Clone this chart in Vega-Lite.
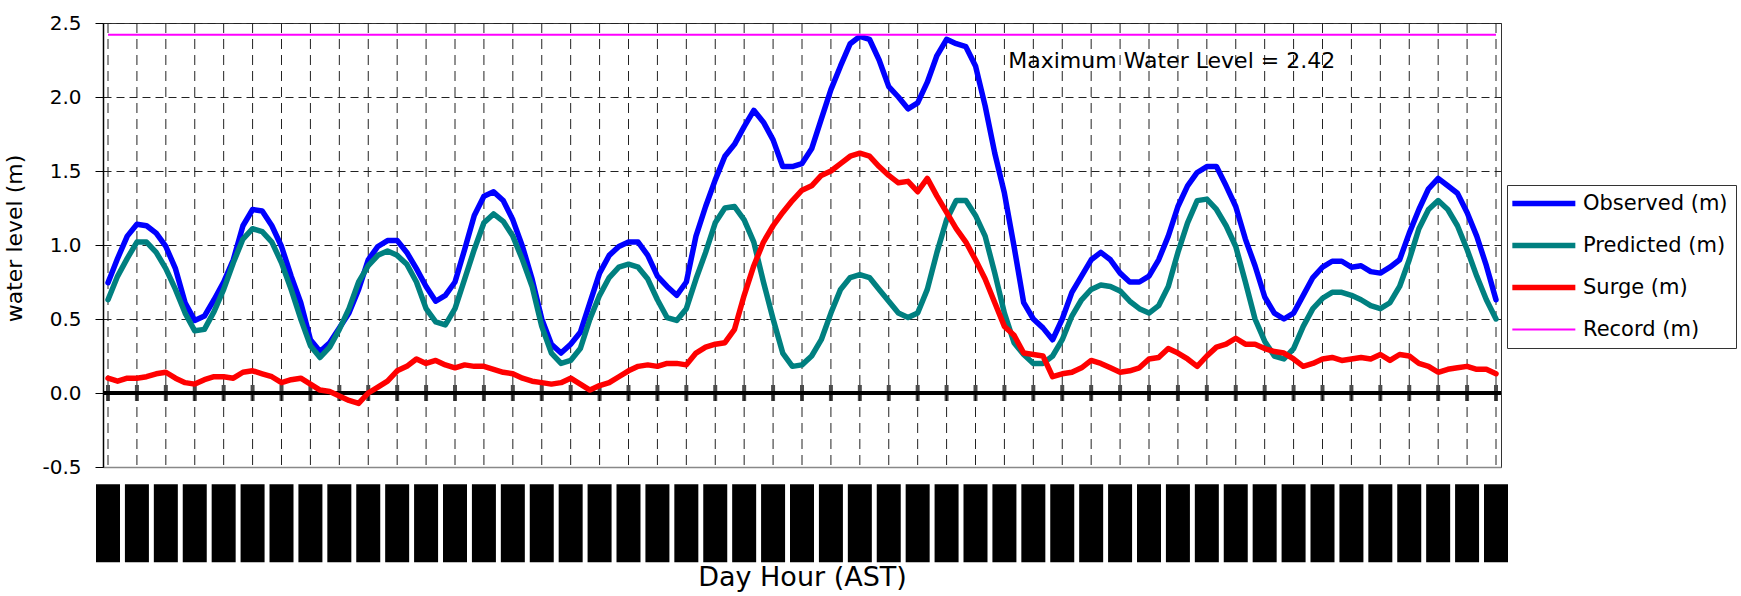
{
  "$schema": "https://vega.github.io/schema/vega-lite/v6.json",
  "width": 1398,
  "height": 444,
  "autosize": "none",
  "padding": {"left": 103, "top": 23, "right": 240, "bottom": 129},
  "background": "white",
  "config": {
    "view": {"stroke": "#333", "strokeWidth": 1},
    "font": "DejaVu Sans",
    "axis": {"labelFont": "DejaVu Sans", "titleFont": "DejaVu Sans", "labelColor": "black", "titleColor": "black", "titleFontWeight": "normal"}
  },
  "datasets": {
    "wl": [
      {"h":0,"Observed (m)":0.745,"Predicted (m)":0.63,"Surge (m)":0.10},
      {"h":1,"Observed (m)":0.91,"Predicted (m)":0.79,"Surge (m)":0.08},
      {"h":2,"Observed (m)":1.06,"Predicted (m)":0.91,"Surge (m)":0.10},
      {"h":3,"Observed (m)":1.14,"Predicted (m)":1.02,"Surge (m)":0.10},
      {"h":4,"Observed (m)":1.13,"Predicted (m)":1.02,"Surge (m)":0.11},
      {"h":5,"Observed (m)":1.08,"Predicted (m)":0.95,"Surge (m)":0.13},
      {"h":6,"Observed (m)":0.99,"Predicted (m)":0.84,"Surge (m)":0.14},
      {"h":7,"Observed (m)":0.84,"Predicted (m)":0.70,"Surge (m)":0.10},
      {"h":8,"Observed (m)":0.61,"Predicted (m)":0.54,"Surge (m)":0.07},
      {"h":9,"Observed (m)":0.49,"Predicted (m)":0.42,"Surge (m)":0.06},
      {"h":10,"Observed (m)":0.52,"Predicted (m)":0.43,"Surge (m)":0.09},
      {"h":11,"Observed (m)":0.63,"Predicted (m)":0.55,"Surge (m)":0.11},
      {"h":12,"Observed (m)":0.75,"Predicted (m)":0.70,"Surge (m)":0.11},
      {"h":13,"Observed (m)":0.90,"Predicted (m)":0.88,"Surge (m)":0.10},
      {"h":14,"Observed (m)":1.13,"Predicted (m)":1.04,"Surge (m)":0.14},
      {"h":15,"Observed (m)":1.24,"Predicted (m)":1.11,"Surge (m)":0.15},
      {"h":16,"Observed (m)":1.23,"Predicted (m)":1.09,"Surge (m)":0.13},
      {"h":17,"Observed (m)":1.13,"Predicted (m)":1.02,"Surge (m)":0.11},
      {"h":18,"Observed (m)":0.99,"Predicted (m)":0.88,"Surge (m)":0.07},
      {"h":19,"Observed (m)":0.79,"Predicted (m)":0.70,"Surge (m)":0.09},
      {"h":20,"Observed (m)":0.61,"Predicted (m)":0.50,"Surge (m)":0.10},
      {"h":21,"Observed (m)":0.36,"Predicted (m)":0.32,"Surge (m)":0.06},
      {"h":22,"Observed (m)":0.28,"Predicted (m)":0.24,"Surge (m)":0.02},
      {"h":23,"Observed (m)":0.34,"Predicted (m)":0.31,"Surge (m)":0.01},
      {"h":24,"Observed (m)":0.44,"Predicted (m)":0.43,"Surge (m)":-0.02},
      {"h":25,"Observed (m)":0.54,"Predicted (m)":0.57,"Surge (m)":-0.05},
      {"h":26,"Observed (m)":0.70,"Predicted (m)":0.75,"Surge (m)":-0.07},
      {"h":27,"Observed (m)":0.90,"Predicted (m)":0.86,"Surge (m)":0.00},
      {"h":28,"Observed (m)":0.99,"Predicted (m)":0.93,"Surge (m)":0.04},
      {"h":29,"Observed (m)":1.03,"Predicted (m)":0.96,"Surge (m)":0.08},
      {"h":30,"Observed (m)":1.03,"Predicted (m)":0.93,"Surge (m)":0.15},
      {"h":31,"Observed (m)":0.95,"Predicted (m)":0.87,"Surge (m)":0.18},
      {"h":32,"Observed (m)":0.84,"Predicted (m)":0.75,"Surge (m)":0.23},
      {"h":33,"Observed (m)":0.72,"Predicted (m)":0.57,"Surge (m)":0.20},
      {"h":34,"Observed (m)":0.62,"Predicted (m)":0.48,"Surge (m)":0.22},
      {"h":35,"Observed (m)":0.66,"Predicted (m)":0.46,"Surge (m)":0.19},
      {"h":36,"Observed (m)":0.75,"Predicted (m)":0.57,"Surge (m)":0.17},
      {"h":37,"Observed (m)":0.97,"Predicted (m)":0.77,"Surge (m)":0.19},
      {"h":38,"Observed (m)":1.20,"Predicted (m)":0.97,"Surge (m)":0.18},
      {"h":39,"Observed (m)":1.33,"Predicted (m)":1.15,"Surge (m)":0.18},
      {"h":40,"Observed (m)":1.36,"Predicted (m)":1.21,"Surge (m)":0.16},
      {"h":41,"Observed (m)":1.30,"Predicted (m)":1.16,"Surge (m)":0.14},
      {"h":42,"Observed (m)":1.17,"Predicted (m)":1.06,"Surge (m)":0.13},
      {"h":43,"Observed (m)":0.99,"Predicted (m)":0.90,"Surge (m)":0.10},
      {"h":44,"Observed (m)":0.77,"Predicted (m)":0.72,"Surge (m)":0.08},
      {"h":45,"Observed (m)":0.50,"Predicted (m)":0.45,"Surge (m)":0.07},
      {"h":46,"Observed (m)":0.33,"Predicted (m)":0.27,"Surge (m)":0.06},
      {"h":47,"Observed (m)":0.27,"Predicted (m)":0.20,"Surge (m)":0.07},
      {"h":48,"Observed (m)":0.33,"Predicted (m)":0.22,"Surge (m)":0.10},
      {"h":49,"Observed (m)":0.41,"Predicted (m)":0.30,"Surge (m)":0.06},
      {"h":50,"Observed (m)":0.61,"Predicted (m)":0.50,"Surge (m)":0.02},
      {"h":51,"Observed (m)":0.81,"Predicted (m)":0.66,"Surge (m)":0.05},
      {"h":52,"Observed (m)":0.93,"Predicted (m)":0.78,"Surge (m)":0.07},
      {"h":53,"Observed (m)":0.99,"Predicted (m)":0.85,"Surge (m)":0.11},
      {"h":54,"Observed (m)":1.02,"Predicted (m)":0.87,"Surge (m)":0.15},
      {"h":55,"Observed (m)":1.02,"Predicted (m)":0.85,"Surge (m)":0.18},
      {"h":56,"Observed (m)":0.93,"Predicted (m)":0.77,"Surge (m)":0.19},
      {"h":57,"Observed (m)":0.79,"Predicted (m)":0.63,"Surge (m)":0.18},
      {"h":58,"Observed (m)":0.72,"Predicted (m)":0.51,"Surge (m)":0.20},
      {"h":59,"Observed (m)":0.66,"Predicted (m)":0.49,"Surge (m)":0.20},
      {"h":60,"Observed (m)":0.75,"Predicted (m)":0.57,"Surge (m)":0.19},
      {"h":61,"Observed (m)":1.06,"Predicted (m)":0.77,"Surge (m)":0.27},
      {"h":62,"Observed (m)":1.26,"Predicted (m)":0.95,"Surge (m)":0.31},
      {"h":63,"Observed (m)":1.44,"Predicted (m)":1.15,"Surge (m)":0.33},
      {"h":64,"Observed (m)":1.60,"Predicted (m)":1.25,"Surge (m)":0.34},
      {"h":65,"Observed (m)":1.68,"Predicted (m)":1.26,"Surge (m)":0.43},
      {"h":66,"Observed (m)":1.80,"Predicted (m)":1.17,"Surge (m)":0.66},
      {"h":67,"Observed (m)":1.91,"Predicted (m)":1.02,"Surge (m)":0.86},
      {"h":68,"Observed (m)":1.83,"Predicted (m)":0.75,"Surge (m)":1.02},
      {"h":69,"Observed (m)":1.71,"Predicted (m)":0.50,"Surge (m)":1.13},
      {"h":70,"Observed (m)":1.53,"Predicted (m)":0.27,"Surge (m)":1.22},
      {"h":71,"Observed (m)":1.53,"Predicted (m)":0.18,"Surge (m)":1.30},
      {"h":72,"Observed (m)":1.55,"Predicted (m)":0.19,"Surge (m)":1.37},
      {"h":73,"Observed (m)":1.65,"Predicted (m)":0.25,"Surge (m)":1.40},
      {"h":74,"Observed (m)":1.85,"Predicted (m)":0.36,"Surge (m)":1.47},
      {"h":75,"Observed (m)":2.05,"Predicted (m)":0.54,"Surge (m)":1.50},
      {"h":76,"Observed (m)":2.21,"Predicted (m)":0.70,"Surge (m)":1.55},
      {"h":77,"Observed (m)":2.36,"Predicted (m)":0.78,"Surge (m)":1.60},
      {"h":78,"Observed (m)":2.41,"Predicted (m)":0.80,"Surge (m)":1.62},
      {"h":79,"Observed (m)":2.39,"Predicted (m)":0.78,"Surge (m)":1.60},
      {"h":80,"Observed (m)":2.25,"Predicted (m)":0.70,"Surge (m)":1.53},
      {"h":81,"Observed (m)":2.07,"Predicted (m)":0.62,"Surge (m)":1.47},
      {"h":82,"Observed (m)":2.00,"Predicted (m)":0.54,"Surge (m)":1.42},
      {"h":83,"Observed (m)":1.92,"Predicted (m)":0.51,"Surge (m)":1.43},
      {"h":84,"Observed (m)":1.96,"Predicted (m)":0.54,"Surge (m)":1.36},
      {"h":85,"Observed (m)":2.10,"Predicted (m)":0.70,"Surge (m)":1.45},
      {"h":86,"Observed (m)":2.28,"Predicted (m)":0.95,"Surge (m)":1.33},
      {"h":87,"Observed (m)":2.39,"Predicted (m)":1.17,"Surge (m)":1.22},
      {"h":88,"Observed (m)":2.36,"Predicted (m)":1.30,"Surge (m)":1.11},
      {"h":89,"Observed (m)":2.34,"Predicted (m)":1.30,"Surge (m)":1.02},
      {"h":90,"Observed (m)":2.21,"Predicted (m)":1.20,"Surge (m)":0.90},
      {"h":91,"Observed (m)":1.94,"Predicted (m)":1.06,"Surge (m)":0.77},
      {"h":92,"Observed (m)":1.62,"Predicted (m)":0.81,"Surge (m)":0.61},
      {"h":93,"Observed (m)":1.35,"Predicted (m)":0.54,"Surge (m)":0.45},
      {"h":94,"Observed (m)":0.99,"Predicted (m)":0.34,"Surge (m)":0.39},
      {"h":95,"Observed (m)":0.61,"Predicted (m)":0.26,"Surge (m)":0.27},
      {"h":96,"Observed (m)":0.50,"Predicted (m)":0.20,"Surge (m)":0.26},
      {"h":97,"Observed (m)":0.44,"Predicted (m)":0.20,"Surge (m)":0.25},
      {"h":98,"Observed (m)":0.36,"Predicted (m)":0.25,"Surge (m)":0.11},
      {"h":99,"Observed (m)":0.50,"Predicted (m)":0.36,"Surge (m)":0.13},
      {"h":100,"Observed (m)":0.68,"Predicted (m)":0.52,"Surge (m)":0.14},
      {"h":101,"Observed (m)":0.79,"Predicted (m)":0.63,"Surge (m)":0.17},
      {"h":102,"Observed (m)":0.90,"Predicted (m)":0.70,"Surge (m)":0.22},
      {"h":103,"Observed (m)":0.95,"Predicted (m)":0.73,"Surge (m)":0.20},
      {"h":104,"Observed (m)":0.90,"Predicted (m)":0.72,"Surge (m)":0.17},
      {"h":105,"Observed (m)":0.81,"Predicted (m)":0.69,"Surge (m)":0.14},
      {"h":106,"Observed (m)":0.75,"Predicted (m)":0.62,"Surge (m)":0.15},
      {"h":107,"Observed (m)":0.75,"Predicted (m)":0.57,"Surge (m)":0.17},
      {"h":108,"Observed (m)":0.79,"Predicted (m)":0.54,"Surge (m)":0.23},
      {"h":109,"Observed (m)":0.90,"Predicted (m)":0.59,"Surge (m)":0.24},
      {"h":110,"Observed (m)":1.06,"Predicted (m)":0.72,"Surge (m)":0.30},
      {"h":111,"Observed (m)":1.26,"Predicted (m)":0.95,"Surge (m)":0.27},
      {"h":112,"Observed (m)":1.40,"Predicted (m)":1.15,"Surge (m)":0.23},
      {"h":113,"Observed (m)":1.49,"Predicted (m)":1.30,"Surge (m)":0.18},
      {"h":114,"Observed (m)":1.53,"Predicted (m)":1.31,"Surge (m)":0.25},
      {"h":115,"Observed (m)":1.53,"Predicted (m)":1.24,"Surge (m)":0.31},
      {"h":116,"Observed (m)":1.40,"Predicted (m)":1.13,"Surge (m)":0.33},
      {"h":117,"Observed (m)":1.26,"Predicted (m)":0.99,"Surge (m)":0.37},
      {"h":118,"Observed (m)":1.04,"Predicted (m)":0.75,"Surge (m)":0.33},
      {"h":119,"Observed (m)":0.86,"Predicted (m)":0.50,"Surge (m)":0.33},
      {"h":120,"Observed (m)":0.65,"Predicted (m)":0.35,"Surge (m)":0.30},
      {"h":121,"Observed (m)":0.54,"Predicted (m)":0.25,"Surge (m)":0.28},
      {"h":122,"Observed (m)":0.50,"Predicted (m)":0.23,"Surge (m)":0.27},
      {"h":123,"Observed (m)":0.54,"Predicted (m)":0.30,"Surge (m)":0.23},
      {"h":124,"Observed (m)":0.66,"Predicted (m)":0.45,"Surge (m)":0.18},
      {"h":125,"Observed (m)":0.78,"Predicted (m)":0.57,"Surge (m)":0.20},
      {"h":126,"Observed (m)":0.85,"Predicted (m)":0.64,"Surge (m)":0.23},
      {"h":127,"Observed (m)":0.89,"Predicted (m)":0.68,"Surge (m)":0.24},
      {"h":128,"Observed (m)":0.89,"Predicted (m)":0.68,"Surge (m)":0.22},
      {"h":129,"Observed (m)":0.85,"Predicted (m)":0.66,"Surge (m)":0.23},
      {"h":130,"Observed (m)":0.86,"Predicted (m)":0.63,"Surge (m)":0.24},
      {"h":131,"Observed (m)":0.82,"Predicted (m)":0.59,"Surge (m)":0.23},
      {"h":132,"Observed (m)":0.81,"Predicted (m)":0.57,"Surge (m)":0.26},
      {"h":133,"Observed (m)":0.85,"Predicted (m)":0.61,"Surge (m)":0.22},
      {"h":134,"Observed (m)":0.90,"Predicted (m)":0.72,"Surge (m)":0.26},
      {"h":135,"Observed (m)":1.08,"Predicted (m)":0.90,"Surge (m)":0.25},
      {"h":136,"Observed (m)":1.24,"Predicted (m)":1.11,"Surge (m)":0.20},
      {"h":137,"Observed (m)":1.38,"Predicted (m)":1.24,"Surge (m)":0.18},
      {"h":138,"Observed (m)":1.45,"Predicted (m)":1.30,"Surge (m)":0.14},
      {"h":139,"Observed (m)":1.40,"Predicted (m)":1.24,"Surge (m)":0.16},
      {"h":140,"Observed (m)":1.35,"Predicted (m)":1.13,"Surge (m)":0.17},
      {"h":141,"Observed (m)":1.22,"Predicted (m)":0.97,"Surge (m)":0.18},
      {"h":142,"Observed (m)":1.06,"Predicted (m)":0.79,"Surge (m)":0.16},
      {"h":143,"Observed (m)":0.86,"Predicted (m)":0.63,"Surge (m)":0.16},
      {"h":144,"Observed (m)":0.63,"Predicted (m)":0.50,"Surge (m)":0.13}
    ],
    "record": [
      {"h":0,"series":"Record (m)","v":2.42},
      {"h":144,"series":"Record (m)","v":2.42}
    ],
    "ticks": [
      {"h":0},{"h":3},{"h":6},{"h":9},{"h":12},{"h":15},{"h":18},{"h":21},{"h":24},{"h":27},
      {"h":30},{"h":33},{"h":36},{"h":39},{"h":42},{"h":45},{"h":48},{"h":51},{"h":54},{"h":57},
      {"h":60},{"h":63},{"h":66},{"h":69},{"h":72},{"h":75},{"h":78},{"h":81},{"h":84},{"h":87},
      {"h":90},{"h":93},{"h":96},{"h":99},{"h":102},{"h":105},{"h":108},{"h":111},{"h":114},{"h":117},
      {"h":120},{"h":123},{"h":126},{"h":129},{"h":132},{"h":135},{"h":138},{"h":141},{"h":144}
    ],
    "note": [
      {"h":93.4,"v":2.24,"label":"Maximum Water Level = 2.42"}
    ]
  },
  "layer": [
    {
      "data": {"name": "ticks"},
      "mark": {"type": "bar", "size": 24, "color": "black"},
      "encoding": {
        "x": {"field": "h", "type": "quantitative", "scale": {"domain": [0, 144], "nice": false, "zero": false},
              "axis": {"grid": false, "labels": false, "ticks": false, "domainColor": "#888", "domainWidth": 1.5,
                       "title": "Day Hour (AST)", "titleFontSize": 27, "titleY": 118, "titleBaseline": "alphabetic"}},
        "y": {"datum": -0.617, "type": "quantitative", "scale": {"domain": [-0.5, 2.5], "nice": false, "zero": false},
              "axis": {"values": [-0.5, 0, 0.5, 1, 1.5, 2, 2.5],
                       "labelExpr": "datum.value < 0 ? '-' + format(-datum.value, '.1f') : format(datum.value, '.1f')",
                       "labelFontSize": 20, "tickSize": 8, "tickColor": "black", "labelPadding": 14,
                       "domainColor": "black", "domainWidth": 1.5,
                       "grid": true, "gridDash": [8, 5], "gridColor": "#222", "gridWidth": 1,
                       "title": "water level (m)", "titleFontSize": 22, "titleX": -89, "titleY": 215,
                       "titleAngle": -90, "titleAlign": "center", "titleBaseline": "middle"}},
        "y2": {"datum": -1.144}
      }
    },
    {
      "data": {"name": "ticks"},
      "mark": {"type": "rule", "color": "#222", "strokeWidth": 1, "strokeDash": [10, 6]},
      "encoding": {"x": {"field": "h", "type": "quantitative"}}
    },
    {
      "data": {"name": "ticks"},
      "mark": {"type": "rule", "color": "black", "strokeWidth": 4},
      "encoding": {"y": {"datum": 0, "type": "quantitative"}}
    },
    {
      "data": {"name": "ticks"},
      "mark": {"type": "tick", "orient": "vertical", "size": 16, "thickness": 4, "color": "black"},
      "encoding": {
        "x": {"field": "h", "type": "quantitative"},
        "y": {"datum": 0, "type": "quantitative"}
      }
    },
    {
      "data": {"name": "wl"},
      "transform": [{"fold": ["Observed (m)", "Predicted (m)", "Surge (m)"], "as": ["series", "v"]}],
      "mark": {"type": "line", "strokeWidth": 5.5, "strokeJoin": "round", "strokeCap": "round"},
      "encoding": {
        "x": {"field": "h", "type": "quantitative"},
        "y": {"field": "v", "type": "quantitative"},
        "color": {"field": "series", "type": "nominal",
                  "scale": {"domain": ["Observed (m)", "Predicted (m)", "Surge (m)", "Record (m)"], "range": ["#0000ff", "#008080", "#ff0000", "#ff00ff"]},
                  "legend": {"title": null, "orient": "none", "legendX": 1404, "legendY": 162,
                             "symbolType": "M-0.94,0H3.56", "symbolSize": 784, "labelOffset": 47, "rowPadding": 19,
                             "padding": 8, "strokeColor": "#333", "fillColor": "white",
                             "labelFontSize": 21, "labelFont": "DejaVu Sans", "labelColor": "black", "labelLimit": 400,
                             "encode": {"symbols": {"update": {"strokeWidth": {"signal": "datum.value === 'Record (m)' ? 2 : 5.5"}}}}}}
      }
    },
    {
      "data": {"name": "record"},
      "mark": {"type": "line", "strokeWidth": 2},
      "encoding": {
        "x": {"field": "h", "type": "quantitative"},
        "y": {"field": "v", "type": "quantitative"},
        "color": {"field": "series", "type": "nominal"}
      }
    },
    {
      "data": {"name": "note"},
      "mark": {"type": "text", "align": "left", "baseline": "middle", "fontSize": 22, "font": "DejaVu Sans", "color": "black"},
      "encoding": {
        "x": {"field": "h", "type": "quantitative"},
        "y": {"field": "v", "type": "quantitative"},
        "text": {"field": "label"}
      }
    }
  ]
}
